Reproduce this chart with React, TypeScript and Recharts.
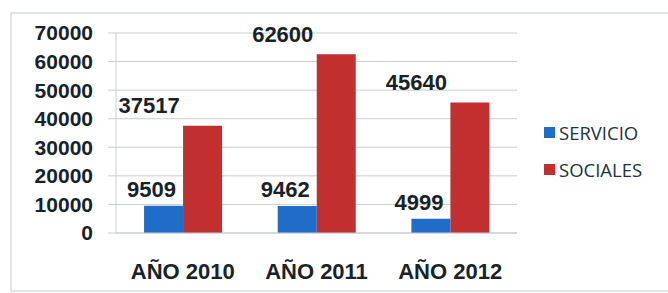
import { BarChart, Bar, XAxis, YAxis, CartesianGrid, Legend, LabelList } from "recharts";

const years = ["AÑO 2010", "AÑO 2011", "AÑO 2012"];
const servicio = [9509, 9462, 4999];
const sociales = [37517, 62600, 45640];
const yTicks = [0, 10000, 20000, 30000, 40000, 50000, 60000, 70000];

const data = years.map((name, i) => ({ name, SERVICIO: servicio[i], SOCIALES: sociales[i] }));

const FONT = "'Liberation Sans', Arial, sans-serif";
const BLUE = "#1f6cc9";
const RED = "#c1302e";

const makeLabel = (dx: number, dy: number, center: boolean) => (props: any) => {
  const { x, y, width, value } = props;
  const cx = center ? x + width / 2 + dx : x + dx;
  return (
    <text x={cx} y={y + dy} textAnchor="middle" dominantBaseline="central" fontFamily={FONT} fontWeight="bold" fontSize={22} fill="#17232b">
      {value}
    </text>
  );
};

const LegendBox = ({ payload }: any) => (
  <div style={{ display: "flex", flexDirection: "column", gap: 14 }}>
    {payload.map((p: any) => (
      <div key={p.value} style={{ display: "flex", alignItems: "center", fontFamily: "'Open Sans', sans-serif", fontSize: 18.5, color: "#22323f", lineHeight: "23px" }}>
        <span style={{ width: 11, height: 11, background: p.color, marginRight: 4, display: "inline-block" }} />
        {p.value}
      </div>
    ))}
  </div>
);

export default function App() {
  return (
    <div style={{ position: "absolute", left: 0, top: 0, width: 668, height: 293, background: "#fff", overflow: "hidden" }}>
      <div style={{ position: "absolute", left: 10, top: 12, width: 670, height: 276, border: "2px solid #e1e5e8" }} />
      <BarChart width={668} height={293} data={data} margin={{ top: 33, right: 151, left: 20, bottom: 15 }} barCategoryGap="21%" barGap={0}>
        <CartesianGrid stroke="#c9cdd1" vertical={false} />
        <XAxis dataKey="name" height={45} interval={0} axisLine={{ stroke: "#c9cdd1" }} tickLine={false} tickMargin={24}
          tick={{ fontSize: 22, fontWeight: "bold", fill: "#17232b", fontFamily: FONT }} />
        <YAxis width={96} domain={[0, 70000]} ticks={yTicks} interval={0} axisLine={{ stroke: "#c9cdd1" }}
          tickLine={{ stroke: "#c9cdd1" }} tickSize={8} tickMargin={15}
          tick={{ fontSize: 21, fontWeight: "bold", fill: "#17232b", fontFamily: FONT }} />
        <Legend layout="horizontal" verticalAlign="middle" align="center" content={<LegendBox />}
          wrapperStyle={{ left: 544, top: 121, width: 124 }} />
        <Bar dataKey="SERVICIO" fill={BLUE} isAnimationActive={false}>
          <LabelList dataKey="SERVICIO" content={makeLabel(-12, -16, true)} />
        </Bar>
        <Bar dataKey="SOCIALES" fill={RED} isAnimationActive={false}>
          <LabelList dataKey="SOCIALES" content={makeLabel(-34, -20, false)} />
        </Bar>
      </BarChart>
    </div>
  );
}
